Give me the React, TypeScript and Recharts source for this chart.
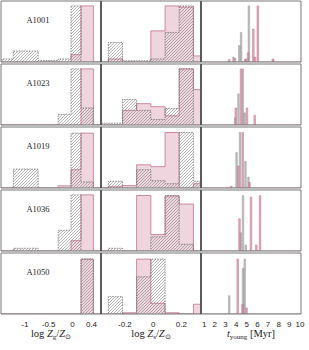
import React from 'react';
import { ComposedChart, Area, XAxis, YAxis } from 'recharts';

// ---------------- data ----------------
const CLUSTERS = ['A1001', 'A1023', 'A1019', 'A1036', 'A1050'];

// column 1: log Zg/Zsun, bin edges and relative heights
const ZG_EDGES = [-1.48, -1.24, -0.72, -0.3, -0.03, 0.18, 0.44];
const ZG_HATCH = [
  [0.05, 0.18, 0.025, 0.05, 0.92, 0],
  [0, 0, 0, 0.175, 0.92, 0.28],
  [0, 0.31, 0, 0, 0.9, 0.1],
  [0, 0.045, 0, 0.34, 0.92, 0],
  [0, 0, 0, 0, 0, 0.9],
];
const ZG_FILL = [
  [0, 0, 0, 0, 0.12, 0.92],
  [0, 0, 0, 0, 0, 0.92],
  [0, 0, 0, 0.035, 0.3, 0.9],
  [0, 0, 0, 0, 0.17, 0.92],
  [0, 0, 0, 0, 0, 0.9],
];

// column 2: log Zs/Zsun
const ZS_EDGES = [-0.419, -0.318, -0.217, -0.117, -0.016, 0.085, 0.185, 0.286, 0.386];
const ZS_HATCH = [
  [0, 0.32, 0.02, 0.02, 0.05, 0.485, 0.92, 0],
  [0.03, 0.03, 0.42, 0.24, 0.09, 0.27, 0.92, 0],
  [0, 0.11, 0, 0.3, 0.12, 0.07, 0.91, 0.11],
  [0, 0.045, 0, 0, 0.235, 0.91, 0.11, 0],
  [0, 0.285, 0, 0.61, 0.9, 0, 0, 0],
];
const ZS_FILL = [
  [0, 0.05, 0, 0, 0.51, 0.92, 0.9, 0.1],
  [0, 0, 0.24, 0.35, 0.3, 0.15, 0.92, 0.58],
  [0, 0.02, 0.04, 0.38, 0.35, 0.91, 0, 0.07],
  [0, 0, 0, 0.91, 0.27, 0.9, 0.77, 0],
  [0, 0, 0.02, 0.9, 0.175, 0.02, 0, 0.16],
];

// column 3: t_young [Myr], [age, relative height]
const AGE_GRAY: number[][][] = [
  [[3.75, 0.08], [4.3, 0.27], [4.47, 0.485], [4.88, 0.04], [5.2, 0.92], [7.5, 0.03]],
  [[3.91, 0.12], [4.22, 0.51], [4.63, 0.92], [4.8, 0.2]],
  [[4.04, 0.58], [4.37, 0.91], [4.88, 0.44], [5.16, 0.18]],
  [[4.43, 0.3], [4.65, 0.91], [4.91, 0.1]],
  [[3.35, 0.3], [4.65, 0.75], [4.81, 0.9]],
];
const AGE_PINK: number[][][] = [
  [[3.35, 0.04], [3.9, 0.06], [4.9, 0.05], [5.12, 0.15], [5.62, 0.54], [5.78, 0.08], [6.04, 0.92], [7.45, 0.05]],
  [[3.97, 0.28], [4.46, 0.92], [5.02, 0.28], [5.75, 0.16]],
  [[3.55, 0.03], [4.2, 0.36], [4.62, 0.91], [5.26, 0.09]],
  [[4.32, 0.53], [5.4, 0.885], [5.9, 0.1], [6.25, 0.91]],
  [[4.15, 0.9], [4.6, 0.16], [4.98, 0.1]],
];

const DOMAINS: [number, number][] = [[-1.5, 0.6], [-0.37, 0.34], [0.7, 10.1]];
const TICKS = [[-1, -0.5, 0, 0.4], [-0.2, 0, 0.2], [1, 2, 3, 4, 5, 6, 7, 8, 9, 10]];
const SPIKE_W = 0.15;

// ---------------- helpers ----------------
type Bin = { x0: number; x1: number; h: number };
const toBins = (edges: number[], vals: number[]): Bin[] =>
  vals.map((h, i) => ({ x0: edges[i], x1: edges[i + 1], h }));
const spikeBins = (sp: number[][]): Bin[] =>
  sp.map(([t, h]) => ({ x0: t - SPIKE_W / 2, x1: t + SPIKE_W / 2, h }));
const rnd = (v: number) => Math.round(v * 10000) / 10000;

function buildRows(a: Bin[], b: Bin[], dom: [number, number]) {
  const set = new Set<number>([rnd(dom[0]), rnd(dom[1])]);
  [...a, ...b].forEach((bn) => {
    [bn.x0, bn.x1].forEach((e) => {
      if (e > dom[0] && e < dom[1]) set.add(rnd(e));
    });
  });
  const xs = [...set].sort((p, q) => p - q);
  const val = (bins: Bin[], x: number) => {
    const f = bins.find((bn) => rnd(bn.x0) <= x && x < rnd(bn.x1));
    return f ? f.h : 0;
  };
  return xs.map((x) => ({ x, a: val(a, x), b: val(b, x) }));
}

const PLOT_W = 100;
const PLOT_H = 61;
const COL_LEFT = [1, 101, 201];
const ROW_TOP = [1, 64, 127, 190, 253];

const serif = 'Liberation Serif, Times New Roman, serif';
const sans = 'Liberation Sans, Arial, sans-serif';

function XLabel({ col }: { col: number }) {
  const cx = 1 + PLOT_W / 2;
  const y = 1 + PLOT_H + 22.5;
  const common = { x: cx, y, textAnchor: 'middle' as const, fontFamily: serif, fontSize: 10.5, fill: '#222' };
  if (col === 0 || col === 1) {
    const s = col === 0 ? 'g' : 's';
    return (
      <text {...common}>
        <tspan>log </tspan>
        <tspan fontStyle="italic">Z</tspan>
        <tspan fontSize={7} dy={2}>{s}</tspan>
        <tspan dy={-2}>/</tspan>
        <tspan fontStyle="italic">Z</tspan>
        <tspan fontSize={7} dy={2}>⊙</tspan>
      </text>
    );
  }
  return (
    <text {...common}>
      <tspan fontStyle="italic">t</tspan>
      <tspan fontSize={7} dy={2}>young</tspan>
      <tspan dy={-2}> [Myr]</tspan>
    </text>
  );
}

function Panel({ row, col }: { row: number; col: number }) {
  const dom = DOMAINS[col];
  let a: Bin[];
  let b: Bin[];
  if (col === 0) {
    a = toBins(ZG_EDGES, ZG_HATCH[row]);
    b = toBins(ZG_EDGES, ZG_FILL[row]);
  } else if (col === 1) {
    a = toBins(ZS_EDGES, ZS_HATCH[row]);
    b = toBins(ZS_EDGES, ZS_FILL[row]);
  } else {
    a = spikeBins(AGE_GRAY[row]);
    b = spikeBins(AGE_PINK[row]);
  }
  const data = buildRows(a, b, dom);
  const isBottom = row === CLUSTERS.length - 1;
  const hatchId = `hatch-${row}-${col}`;
  const axisH = isBottom ? 40 : 1;
  const leftW = col === 0 ? 1 : 1.6;
  const rightW = col === 2 ? 1 : 1.6;

  const pinkHist = (
    <Area
      key="pink"
      type="stepAfter"
      dataKey="b"
      fill="#cf7f9b"
      fillOpacity={col === 2 ? 0.65 : 0.33}
      stroke="#c4708f"
      strokeWidth={col === 2 ? 0.5 : 0.8}
      dot={false}
      activeDot={false}
      isAnimationActive={false}
    />
  );
  const grayHist =
    col === 2 ? (
      <Area
        key="gray"
        type="stepAfter"
        dataKey="a"
        fill="#8c8c8c"
        fillOpacity={0.55}
        stroke="#8c8c8c"
        strokeWidth={0.4}
        dot={false}
        activeDot={false}
        isAnimationActive={false}
      />
    ) : (
      <Area
        key="gray"
        type="stepAfter"
        dataKey="a"
        fill={`url(#${hatchId})`}
        fillOpacity={1}
        stroke="#6a6a6a"
        strokeDasharray="1.6 1"
        strokeWidth={0.7}
        dot={false}
        activeDot={false}
        isAnimationActive={false}
      />
    );

  return (
    <div
      style={{
        position: 'absolute',
        left: COL_LEFT[col] - 1,
        top: ROW_TOP[row] - 1,
        width: PLOT_W + 2,
        height: PLOT_H + 1 + axisH,
      }}
    >
      <ComposedChart
        width={PLOT_W + 2}
        height={PLOT_H + 1 + axisH}
        data={data}
        margin={{ top: 0, right: 0, bottom: 0, left: 0 }}
      >
        <defs>
          <pattern id={hatchId} patternUnits="userSpaceOnUse" width="3" height="3">
            <path d="M-0.75,0.75 l1.5,-1.5 M0,3 l3,-3 M2.25,3.75 l1.5,-1.5" stroke="#7a7a7a" strokeWidth="0.55" />
          </pattern>
        </defs>
        <XAxis
          type="number"
          dataKey="x"
          domain={dom}
          allowDataOverflow
          ticks={TICKS[col]}
          tick={isBottom ? { fontFamily: sans, fontSize: 8, fill: '#222' } : false}
          tickFormatter={(v: number) => String(v)}
          tickLine={false}
          tickSize={5}
          tickMargin={2}
          interval={0}
          height={axisH}
          axisLine={{ stroke: '#777', strokeWidth: 1 }}
        />
        <XAxis
          xAxisId="top"
          orientation="top"
          type="number"
          dataKey="x"
          domain={dom}
          allowDataOverflow
          tick={false}
          tickLine={false}
          height={1}
          axisLine={{ stroke: '#777', strokeWidth: 1 }}
        />
        <YAxis
          type="number"
          domain={[0, 1]}
          allowDataOverflow
          tick={false}
          tickLine={false}
          width={1}
          axisLine={{ stroke: col === 0 ? '#777' : '#555', strokeWidth: leftW }}
        />
        <YAxis
          yAxisId="r"
          orientation="right"
          type="number"
          domain={[0, 1]}
          tick={false}
          tickLine={false}
          width={1}
          axisLine={{ stroke: col === 2 ? '#777' : '#555', strokeWidth: rightW }}
        />
        {col === 2 ? [grayHist, pinkHist] : [pinkHist, grayHist]}
        {col === 0 && (
          <text x={1 + 37} y={1 + 21.5} textAnchor="middle" fontFamily={serif} fontSize={8.5} fill="#222">
            {CLUSTERS[row]}
          </text>
        )}
        {isBottom && <XLabel col={col} />}
      </ComposedChart>
    </div>
  );
}

export default function App() {
  return (
    <div style={{ position: 'absolute', left: 0, top: 0, width: 309, height: 350, background: '#fff' }}>
      <style>{`.recharts-surface{overflow:visible}`}</style>
      {CLUSTERS.map((_, r) =>
        [0, 1, 2].map((c) => <Panel key={`${r}-${c}`} row={r} col={c} />)
      )}
    </div>
  );
}
